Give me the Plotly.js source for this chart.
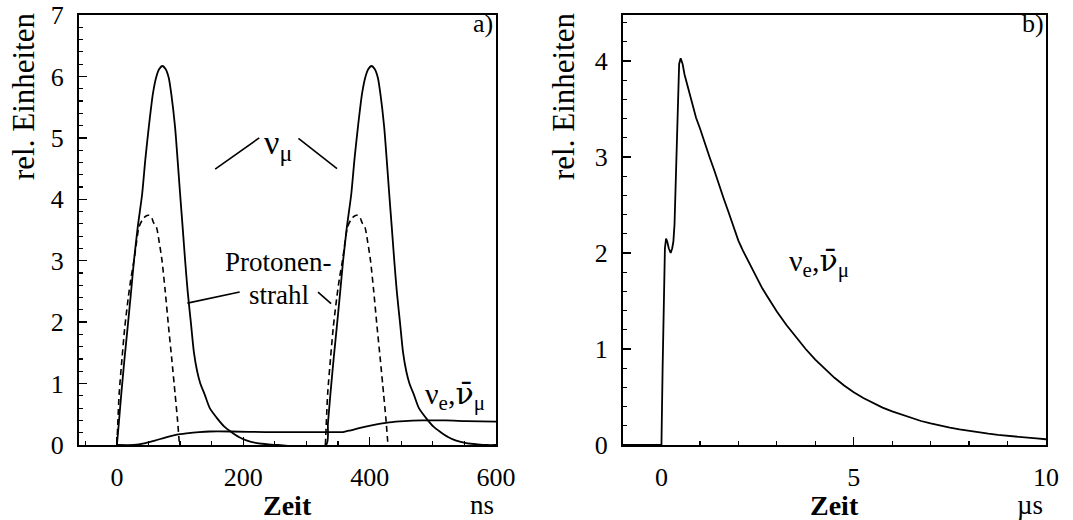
<!DOCTYPE html>
<html>
<head>
<meta charset="utf-8">
<script src="https://cdn.plot.ly/plotly-3.0.1.min.js"></script>
<style>
html,body{margin:0;padding:0;background:#fff;}
#chart{width:1073px;height:520px;}
</style>
</head>
<body>
<div id="chart"></div>
<script>
// ---------- Data: panel a) (time in ns) ----------
const numuX = [0, 3, 7, 12, 17, 22, 27, 33, 40, 45, 50.5, 57, 62, 67, 72, 77, 82, 86, 92, 96, 100, 104, 108, 112, 117, 122, 127, 132, 139, 147, 159, 170, 180, 193, 206, 222, 240, 255,
  331, 334, 338, 343, 348, 353, 358, 364, 371, 376, 381.5, 388, 393, 398, 403, 408, 413, 417, 423, 427, 431, 435, 439, 443, 448, 453, 458, 463, 470, 478, 490, 501, 511, 524, 537, 553, 571, 586, 600];
const numuY = [0, 0.35, 0.84, 1.4, 1.92, 2.45, 3.0, 3.55, 4.09, 4.65, 5.18, 5.72, 5.98, 6.12, 6.17, 6.12, 5.98, 5.72, 5.18, 4.65, 4.09, 3.55, 3.0, 2.5, 2.0, 1.5, 1.2, 1.0, 0.82, 0.6, 0.43, 0.3, 0.22, 0.13, 0.07, 0.03, 0.01, 0,
  0, 0.35, 0.84, 1.4, 1.92, 2.45, 3.0, 3.55, 4.09, 4.65, 5.18, 5.72, 5.98, 6.12, 6.17, 6.12, 5.98, 5.72, 5.18, 4.65, 4.09, 3.55, 3.0, 2.5, 2.0, 1.5, 1.2, 1.0, 0.82, 0.6, 0.43, 0.3, 0.22, 0.13, 0.07, 0.03, 0.01, 0, 0];

const protonX = [0, 2, 3.6, 8, 12.5, 18, 22, 27, 31, 35, 40, 45, 50.5, 55, 58, 62.5, 67, 71.4, 76.5, 81.8, 87, 92, 96, 99];
const protonY = [0, 0.5, 0.84, 1.4, 1.92, 2.4, 2.7, 3.0, 3.3, 3.55, 3.66, 3.72, 3.74, 3.7, 3.62, 3.55, 3.3, 3.0, 2.5, 1.92, 1.38, 0.84, 0.4, 0];
const proton2X = [330, 332, 333.6, 338, 342.5, 348, 352, 357, 361, 365, 370, 375, 380.5, 385, 388, 392.5, 397, 401.4, 406.5, 411.8, 417, 422, 426, 429];
const proton2Y = [0, 0.5, 0.84, 1.4, 1.92, 2.4, 2.7, 3.0, 3.3, 3.55, 3.66, 3.72, 3.74, 3.7, 3.62, 3.55, 3.3, 3.0, 2.5, 1.92, 1.38, 0.84, 0.4, 0];

const nueX = [0, 27, 45, 60, 79, 95, 110, 130, 147, 180, 235, 300, 334, 350, 358, 370, 385, 405, 431, 455, 483, 520, 553, 600];
const nueY = [0, 0, 0.03, 0.07, 0.13, 0.17, 0.19, 0.21, 0.22, 0.22, 0.21, 0.21, 0.21, 0.21, 0.21, 0.24, 0.28, 0.325, 0.37, 0.39, 0.4, 0.4, 0.39, 0.38];

// ---------- Data: panel b) (time in µs) ----------
const decayX = [-1, 0, 0.03, 0.06, 0.09, 0.12, 0.15, 0.19, 0.24, 0.28, 0.31, 0.34, 0.37, 0.4, 0.43, 0.46, 0.5, 0.55, 0.6, 0.7, 0.8, 0.9, 1.0, 1.125, 1.25, 1.375, 1.5, 1.625, 1.75, 1.875, 2.0, 2.125, 2.25, 2.375, 2.5, 2.625, 2.75, 2.875,
  3.0, 3.25, 3.5, 3.75, 4.0, 4.25, 4.5, 4.75, 5.0, 5.25, 5.5, 5.75, 6.0, 6.25, 6.5, 6.75, 7.0, 7.25, 7.5, 7.75, 8.0, 8.25, 8.5, 8.75, 9.0, 9.25, 9.5, 9.75, 10.0];
const decayY = [0, 0, 0.8, 1.55, 2.05, 2.15, 2.12, 2.05, 2.0, 2.05, 2.12, 2.3, 2.7, 3.3, 3.75, 3.97, 4.03, 3.97, 3.86, 3.7, 3.55, 3.41, 3.3, 3.14, 3.0, 2.86, 2.7, 2.56, 2.42, 2.28, 2.13, 2.02, 1.92, 1.82, 1.72, 1.63, 1.55, 1.47,
  1.39, 1.25, 1.12, 1.0, 0.89, 0.79, 0.7, 0.62, 0.55, 0.49, 0.44, 0.39, 0.35, 0.315, 0.28, 0.25, 0.225, 0.2, 0.18, 0.162, 0.146, 0.132, 0.118, 0.106, 0.095, 0.085, 0.076, 0.068, 0.06];

// ---------- Axis ticks ----------
const xTicksA = [0, 200, 400, 600];
const yTicksA = [0, 1, 2, 3, 4, 5, 6, 7];
const xTicksB = [0, 5, 10];
const yTicksB = [0, 1, 2, 3, 4];

// ---------- Geometry ----------
const W = 1073, H = 520;
const ML = 79, MR = 27, MT = 15, MB = 75;
const PW = W - ML - MR, PH = H - MT - MB;
const px2x = p => (p - ML) / PW;
const py2y = p => (H - MB - p) / PH;
const FONT = '"Liberation Serif", "Times New Roman", serif';

const line = {color: 'black', width: 1.8, shape: 'spline', smoothing: 0.7};
const dline = {color: 'black', width: 1.6, dash: '6px,4px', shape: 'spline', smoothing: 0.7};
const traces = [
  {x: numuX, y: numuY, mode: 'lines', line: line, xaxis: 'x', yaxis: 'y', hoverinfo: 'skip'},
  {x: protonX, y: protonY, mode: 'lines', line: dline, xaxis: 'x', yaxis: 'y', hoverinfo: 'skip'},
  {x: proton2X, y: proton2Y, mode: 'lines', line: dline, xaxis: 'x', yaxis: 'y', hoverinfo: 'skip'},
  {x: nueX, y: nueY, mode: 'lines', line: line, xaxis: 'x', yaxis: 'y', hoverinfo: 'skip'},
  {x: decayX, y: decayY, mode: 'lines', line: {color: 'black', width: 1.8, shape: 'linear'}, xaxis: 'x2', yaxis: 'y2', hoverinfo: 'skip'}
];

function axis(extra) {
  return Object.assign({
    showgrid: false, zeroline: false, showline: true, mirror: true,
    linecolor: 'black', linewidth: 2,
    ticks: 'inside', ticklen: 8, tickwidth: 1.5, tickcolor: 'black',
    tickfont: {family: FONT, size: 26, color: 'black'},
    ticklabelstandoff: 8,
    fixedrange: true
  }, extra);
}

const annFont = s => ({family: FONT, size: s, color: 'black'});
const ann = (text, px, py, size, extra) => Object.assign({
  text: text, xref: 'paper', yref: 'paper', x: px2x(px), y: py2y(py),
  xanchor: 'center', yanchor: 'middle', showarrow: false, font: annFont(size)
}, extra || {});
const nueText = '\u03BD<sub>e</sub>,<span style="font-family:DejaVu Serif">\u03BD\u0304</span><sub>\u03BC</sub>';

const layout = {
  width: W, height: H,
  margin: {l: ML, r: MR, t: MT, b: MB, pad: 0},
  paper_bgcolor: 'white', plot_bgcolor: 'white',
  showlegend: false,
  font: {family: FONT, color: 'black'},
  xaxis: axis({domain: [0, px2x(496)], range: [-60, 600], tickvals: xTicksA, ticktext: xTicksA.map(String),
    minor: {dtick: 50, tick0: 0, ticks: 'inside', ticklen: 4, tickwidth: 1.2, tickcolor: 'black'}}),
  yaxis: axis({domain: [0, 1], range: [0, 7], tickvals: yTicksA, ticktext: yTicksA.map(String),
    minor: {dtick: 0.2, tick0: 0, ticks: 'inside', ticklen: 4, tickwidth: 1.2, tickcolor: 'black'}}),
  xaxis2: axis({domain: [px2x(623), 1], range: [-1, 10], anchor: 'y2', tickvals: xTicksB, ticktext: xTicksB.map(String),
    minor: {dtick: 1, tick0: 0, ticks: 'inside', ticklen: 4, tickwidth: 1.2, tickcolor: 'black'}}),
  yaxis2: axis({domain: [0, 1], range: [0, 4.48], anchor: 'x2', tickvals: yTicksB, ticktext: yTicksB.map(String),
    minor: {dtick: 0.2, tick0: 0, ticks: 'inside', ticklen: 4, tickwidth: 1.2, tickcolor: 'black'}}),
  shapes: [
    {type: 'line', xref: 'x', yref: 'y', x0: 155.5, y0: 4.49, x1: 225.3, y1: 5.0, line: {color: 'black', width: 1.6}},
    {type: 'line', xref: 'x', yref: 'y', x0: 287.3, y0: 4.99, x1: 348.4, y1: 4.5, line: {color: 'black', width: 1.6}},
    {type: 'line', xref: 'x', yref: 'y', x0: 111.6, y0: 2.31, x1: 194.3, y1: 2.49, line: {color: 'black', width: 1.6}},
    {type: 'line', xref: 'x', yref: 'y', x0: 318.3, y0: 2.49, x1: 339, y1: 2.3, line: {color: 'black', width: 1.6}}
  ],
  annotations: [
    ann('rel. Einheiten', 23, 97, 31, {textangle: -90}),
    ann('rel. Einheiten', 563, 97, 31, {textangle: -90}),
    ann('<b>Zeit</b>', 287, 505, 28),
    ann('ns', 482, 505, 27),
    ann('<b>Zeit</b>', 834, 505, 28),
    ann('\u00B5s', 1030, 505, 27),
    ann('a)', 483, 24, 26),
    ann('b)', 1033, 24, 26),
    {text: '\u03BD<sub>\u03BC</sub>', xref: 'x', yref: 'y', x: 255, y: 4.88, xanchor: 'center', yanchor: 'middle', showarrow: false, font: annFont(34)},
    {text: 'Protonen-', xref: 'x', yref: 'y', x: 255, y: 2.98, xanchor: 'center', yanchor: 'middle', showarrow: false, font: annFont(27)},
    {text: 'strahl', xref: 'x', yref: 'y', x: 256, y: 2.44, xanchor: 'center', yanchor: 'middle', showarrow: false, font: annFont(27)},
    {text: nueText, xref: 'x', yref: 'y', x: 535, y: 0.8, xanchor: 'center', yanchor: 'middle', showarrow: false, font: annFont(30)},
    {text: nueText, xref: 'x2', yref: 'y2', x: 4.1, y: 1.9, xanchor: 'center', yanchor: 'middle', showarrow: false, font: annFont(30)}
  ]
};

Plotly.newPlot('chart', traces, layout, {displayModeBar: false, staticPlot: true});
</script>
</body>
</html>
